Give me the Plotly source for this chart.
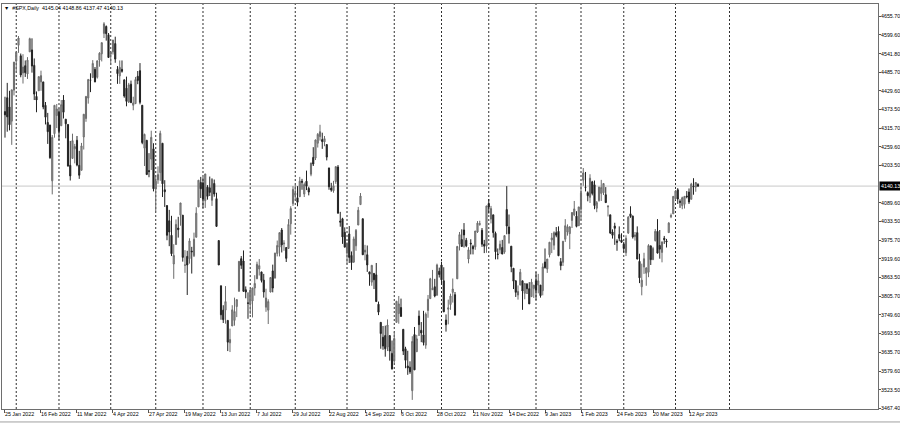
import pandas as pd
import plotly.graph_objects as go

# ---------------- data ----------------
symbol = "#SPX,Daily"
start_date = "2022-01-25"
end_date = "2023-04-18"
holidays = ["2022-02-21", "2022-04-15", "2022-05-30", "2022-06-20", "2022-07-04",
            "2022-09-05", "2022-11-24", "2022-12-26", "2023-01-02", "2023-01-16",
            "2023-02-20", "2023-04-07"]

open_ = [
    # Jan 2022
    4366, 4408, 4380, 4337, 4431,
    # Feb 2022
    4519, 4567, 4535, 4483, 4505, 4480, 4547, 4553, 4506, 4412, 4429, 4456, 4456, 4385,
    4333, 4325, 4156, 4299, 4354,
    # Mar 2022
    4364, 4323, 4401, 4343, 4327, 4203, 4224, 4253, 4279, 4203, 4188, 4289, 4345, 4407,
    4462, 4469, 4494, 4470, 4522, 4541, 4603, 4624, 4599,
    # Apr 2022
    4540, 4547, 4572, 4494, 4474, 4494, 4462, 4437, 4395, 4449, 4385, 4390, 4473, 4490,
    4385, 4255, 4279, 4187, 4222, 4253,
    # May 2022
    4131, 4159, 4181, 4270, 4129, 4081, 4035, 3991, 3904, 3963, 4013, 4052, 4052, 3900,
    3927, 3920, 3943, 3929, 3985, 4077, 4151,
    # Jun 2022
    4150, 4096, 4137, 4135, 4097, 4148, 4102, 3975, 3838, 3764, 3764, 3733, 3665, 3716,
    3733, 3775, 3821, 3920, 3913, 3826, 3786,
    # Jul 2022
    3782, 3792, 3831, 3859, 3889, 3880, 3855, 3773, 3764, 3819, 3883, 3861, 3936, 3955,
    4007, 3965, 3954, 3951, 4026, 4087,
    # Aug 2022
    4113, 4105, 4108, 4155, 4116, 4155, 4133, 4176, 4227, 4225, 4270, 4290, 4281, 4274,
    4266, 4195, 4134, 4126, 4154, 4198, 4034, 4041, 4000,
    # Sep 2022
    3937, 3995, 3930, 3910, 3959, 4022, 4084, 4041, 3940, 3932, 3880, 3849, 3875, 3871,
    3782, 3727, 3682, 3687, 3652, 3687, 3633,
    # Oct 2022
    3610, 3727, 3754, 3772, 3706, 3647, 3595, 3591, 3520, 3690, 3638, 3746, 3703, 3689,
    3658, 3763, 3799, 3826, 3835, 3809, 3882,
    # Nov 2022
    3901, 3853, 3734, 3767, 3781, 3818, 3811, 3859, 3964, 3978, 4007, 3976, 3919, 3967,
    3957, 3956, 4001, 4024, 4006, 3964, 3958,
    # Dec 2022
    4087, 4040, 4053, 3997, 3934, 3947, 3954, 3940, 4069, 4016, 3958, 3891, 3853, 3810,
    3840, 3853, 3815, 3843, 3829, 3805, 3830,
    # Jan 2023
    3853, 3840, 3840, 3823, 3910, 3889, 3932, 3977, 3961, 3999, 4003, 3911, 3909, 3979,
    4001, 3996, 4036, 4053, 4049, 4020,
    # Feb 2023
    4070, 4158, 4137, 4120, 4106, 4153, 4144, 4073, 4096, 4118, 4120, 4114, 4077, 4053,
    4001, 4019, 3973, 3993, 3977,
    # Mar 2023
    3964, 3938, 3998, 4056, 4049, 3987, 3999, 3912, 3835, 3895, 3876, 3879, 3959, 3917,
    3975, 4003, 3960, 3939, 3982, 3974, 3999, 4047, 4056,
    # Apr 2023
    4102, 4129, 4094, 4081, 4085, 4110, 4122, 4100, 4140, 4137, 4145.04,
]

high = [
    4411, 4453, 4429, 4432, 4516,
    4546, 4595, 4542, 4540, 4521, 4531, 4590, 4588, 4527, 4427, 4472, 4490, 4456, 4395,
    4362, 4326, 4295, 4385, 4389,
    4375, 4401, 4416, 4343, 4327, 4277, 4299, 4268, 4292, 4247, 4271, 4358, 4412, 4465,
    4482, 4522, 4501, 4520, 4546, 4575, 4637, 4627, 4604,
    4548, 4583, 4593, 4504, 4521, 4521, 4464, 4472, 4453, 4460, 4411, 4471, 4489, 4513,
    4386, 4299, 4279, 4240, 4308, 4270,
    4169, 4200, 4308, 4270, 4158, 4082, 4068, 4050, 3964, 4039, 4047, 4089, 4052, 3946,
    3944, 3982, 3956, 3999, 4076, 4158, 4168,
    4167, 4177, 4143, 4169, 4164, 4160, 4120, 3975, 3838, 3779, 3837, 3733, 3708, 3779,
    3802, 3796, 3913, 3928, 3945, 3836, 3818,
    3829, 3832, 3870, 3911, 3919, 3880, 3874, 3829, 3797, 3863, 3902, 3938, 3975, 3999,
    4013, 3976, 3954, 4040, 4079, 4140,
    4144, 4140, 4168, 4162, 4151, 4187, 4138, 4211, 4258, 4281, 4301, 4326, 4302, 4292,
    4266, 4196, 4150, 4156, 4200, 4204, 4062, 4044, 4015,
    3970, 4019, 3942, 3987, 4010, 4077, 4119, 4042, 3962, 3960, 3880, 3900, 3877, 3907,
    3790, 3727, 3716, 3717, 3736, 3687, 3672,
    3698, 3792, 3807, 3799, 3706, 3653, 3641, 3609, 3685, 3713, 3689, 3763, 3728, 3762,
    3757, 3810, 3862, 3886, 3859, 3905, 3893,
    3911, 3894, 3751, 3796, 3814, 3860, 3819, 3959, 4001, 4009, 4028, 3983, 3955, 3979,
    3962, 4004, 4034, 4035, 4013, 3977, 4080,
    4101, 4080, 4053, 4002, 3951, 3975, 3977, 3990, 4140, 4054, 3958, 3891, 3854, 3839,
    3889, 3853, 3845, 3846, 3849, 3859, 3840,
    3879, 3874, 3840, 3906, 3951, 3919, 3970, 3998, 4003, 4016, 4018, 3922, 3973, 4040,
    4024, 4019, 4061, 4095, 4064, 4077,
    4148, 4195, 4183, 4124, 4176, 4156, 4157, 4095, 4138, 4159, 4148, 4137, 4082, 4053,
    4009, 4029, 3979, 4018, 3997,
    3971, 3991, 4049, 4079, 4051, 4001, 4018, 3935, 3905, 3938, 3894, 3964, 3959, 3956,
    4010, 4040, 4007, 3972, 3989, 3980, 4031, 4057, 4110,
    4128, 4134, 4100, 4108, 4109, 4125, 4133, 4150, 4164, 4152, 4148.86,
]

low = [
    4287, 4305, 4309, 4265, 4415,
    4484, 4544, 4470, 4451, 4471, 4465, 4547, 4484, 4401, 4364, 4429, 4429, 4373, 4327,
    4268, 4223, 4115, 4287, 4316,
    4279, 4323, 4345, 4285, 4199, 4157, 4224, 4209, 4200, 4162, 4188, 4251, 4335, 4390,
    4425, 4469, 4455, 4466, 4502, 4518, 4589, 4581, 4531,
    4507, 4539, 4514, 4450, 4450, 4484, 4408, 4382, 4392, 4393, 4370, 4390, 4449, 4388,
    4267, 4201, 4175, 4167, 4189, 4124,
    4063, 4147, 4156, 4107, 4077, 3976, 3958, 3928, 3859, 3963, 3984, 4020, 3911, 3877,
    3810, 3905, 3875, 3925, 3985, 4077, 4104,
    4074, 4074, 4099, 4110, 4080, 4108, 4017, 3901, 3735, 3725, 3723, 3640, 3637, 3716,
    3717, 3743, 3821, 3889, 3820, 3800, 3738,
    3752, 3742, 3808, 3859, 3869, 3848, 3802, 3759, 3722, 3818, 3818, 3861, 3927, 3927,
    3939, 3944, 3910, 3951, 3993, 4080,
    4097, 4079, 4108, 4129, 4107, 4128, 4112, 4170, 4201, 4219, 4257, 4278, 4253, 4261,
    4218, 4129, 4123, 4120, 4147, 4057, 4017, 3965, 3955,
    3903, 3907, 3886, 3907, 3944, 4022, 4084, 3933, 3915, 3880, 3838, 3838, 3828, 3789,
    3749, 3647, 3644, 3623, 3640, 3611, 3584,
    3604, 3727, 3723, 3745, 3628, 3588, 3568, 3571, 3492, 3584, 3638, 3686, 3667, 3657,
    3647, 3741, 3799, 3825, 3803, 3809, 3863,
    3843, 3758, 3699, 3721, 3765, 3787, 3748, 3859, 3945, 3957, 3954, 3955, 3906, 3933,
    3933, 3947, 3998, 4020, 3956, 3937, 3938,
    4057, 4027, 3984, 3918, 3918, 3935, 3934, 3935, 3994, 3966, 3879, 3828, 3804, 3796,
    3840, 3765, 3797, 3813, 3783, 3805, 3801,
    3795, 3815, 3802, 3809, 3890, 3877, 3924, 3937, 3947, 3985, 3928, 3885, 3898, 3971,
    3990, 3949, 4013, 4049, 4015, 4021,
    4037, 4141, 4124, 4094, 4089, 4112, 4070, 4061, 4093, 4095, 4113, 4092, 4048, 3995,
    3981, 3962, 3944, 3973, 3968,
    3939, 3928, 3995, 4044, 3981, 3975, 3918, 3846, 3809, 3874, 3838, 3864, 3901, 3917,
    3972, 3936, 3920, 3909, 3965, 3954, 3999, 4043, 4056,
    4098, 4086, 4074, 4070, 4072, 4103, 4086, 4100, 4114, 4123, 4137.47,
]

close = [
    4356, 4350, 4326, 4432, 4516,
    4546, 4589, 4477, 4501, 4484, 4522, 4587, 4504, 4419, 4401, 4472, 4475, 4380, 4349,
    4305, 4226, 4288, 4385, 4374,
    4306, 4387, 4364, 4329, 4201, 4171, 4278, 4260, 4204, 4173, 4262, 4358, 4412, 4463,
    4461, 4512, 4456, 4520, 4543, 4575, 4632, 4602, 4530,
    4546, 4583, 4525, 4481, 4500, 4488, 4413, 4397, 4447, 4393, 4392, 4463, 4460, 4394,
    4272, 4297, 4175, 4184, 4288, 4132,
    4155, 4175, 4300, 4147, 4123, 3991, 4001, 3935, 3930, 4024, 4008, 4089, 3924, 3901,
    3901, 3974, 3941, 3979, 4058, 4158, 4132,
    4101, 4177, 4109, 4121, 4161, 4116, 4018, 3901, 3750, 3735, 3790, 3667, 3675, 3765,
    3760, 3796, 3912, 3900, 3821, 3819, 3785,
    3825, 3831, 3845, 3903, 3899, 3854, 3819, 3801, 3790, 3863, 3831, 3937, 3960, 3999,
    3962, 3967, 3921, 4024, 4072, 4130,
    4119, 4091, 4155, 4152, 4145, 4140, 4122, 4210, 4207, 4280, 4297, 4305, 4275, 4284,
    4228, 4138, 4128, 4141, 4199, 4058, 4031, 3986, 3955,
    3966, 3924, 3908, 3980, 4006, 4067, 4110, 3932, 3946, 3901, 3873, 3900, 3856, 3790,
    3758, 3693, 3655, 3647, 3719, 3640, 3586,
    3678, 3791, 3783, 3745, 3640, 3612, 3589, 3577, 3669, 3583, 3677, 3720, 3695, 3666,
    3752, 3797, 3859, 3830, 3807, 3901, 3872,
    3856, 3759, 3720, 3771, 3807, 3828, 3749, 3957, 3993, 3957, 3992, 3959, 3947, 3965,
    3950, 4004, 4028, 4026, 3964, 3958, 4080,
    4077, 4072, 3999, 3941, 3933, 3964, 3934, 3990, 4019, 3996, 3896, 3852, 3818, 3821,
    3879, 3822, 3845, 3829, 3783, 3849, 3840,
    3824, 3853, 3808, 3895, 3893, 3919, 3970, 3983, 3999, 3991, 3929, 3899, 3973, 4020,
    4017, 4016, 4060, 4071, 4018, 4077,
    4119, 4180, 4136, 4111, 4164, 4118, 4081, 4090, 4137, 4136, 4148, 4090, 4079, 3998,
    3991, 4012, 3970, 3982, 3970,
    3951, 3982, 4046, 4048, 3986, 3992, 3919, 3862, 3855, 3920, 3892, 3960, 3917, 3951,
    4003, 3937, 3949, 3971, 3978, 3971, 4028, 4051, 4109,
    4125, 4101, 4091, 4105, 4109, 4108, 4092, 4146, 4138, 4151, 4140.13,
]

price_ticks = [4655.70, 4599.60, 4541.80, 4485.70, 4429.60, 4373.50, 4315.70, 4259.60,
               4203.50, 4089.60, 4033.50, 3975.70, 3919.60, 3863.50, 3805.70, 3749.60,
               3693.50, 3635.70, 3579.60, 3523.50, 3467.40]

date_labels = ["25 Jan 2022", "16 Feb 2022", "11 Mar 2022", "4 Apr 2022", "27 Apr 2022",
               "19 May 2022", "13 Jun 2022", "7 Jul 2022", "29 Jul 2022", "22 Aug 2022",
               "14 Sep 2022", "6 Oct 2022", "28 Oct 2022", "21 Nov 2022", "14 Dec 2022",
               "9 Jan 2023", "1 Feb 2023", "24 Feb 2023", "20 Mar 2023", "12 Apr 2023"]

# ---------------- build ----------------
dates = [d for d in pd.bdate_range(start_date, end_date) if d.strftime("%Y-%m-%d") not in holidays]
n = min(len(dates), len(open_), len(high), len(low), len(close))
dates = dates[:n]
xs = list(range(n))
date_index = {d.strftime("%-d %b %Y"): i for i, d in enumerate(dates)}
label_pos = [date_index[l] for l in date_labels]

# month grid: first trading bar of each month + next (future) month
grid_pos = [i for i in range(1, n) if dates[i].month != dates[i - 1].month]
grid_pos.append(n - 1 + 14)

FONT = "Liberation Sans"
fs = 5.3

fig = go.Figure()
fig.add_trace(go.Candlestick(
    x=xs, open=open_[:n], high=high[:n], low=low[:n], close=close[:n],
    increasing=dict(line=dict(color="#6c6c6c", width=1), fillcolor="#a2a2a2"),
    decreasing=dict(line=dict(color="#222222", width=1), fillcolor="#222222"),
    whiskerwidth=0, showlegend=False, hoverinfo="skip",
))

shapes = []
for g in grid_pos:
    shapes.append(dict(type="line", xref="x", yref="paper", x0=g, x1=g, y0=0, y1=1,
                       line=dict(color="#303030", width=1, dash="2px,2px"), layer="below"))
# current price line
shapes.append(dict(type="line", xref="paper", yref="y", x0=0, x1=1, y0=close[n - 1], y1=close[n - 1],
                   line=dict(color="#c8c8c8", width=1), layer="below"))
# bottom window line
shapes.append(dict(type="line", xref="paper", yref="paper", x0=-0.01, x1=1.03, y0=-0.032, y1=-0.032,
                   line=dict(color="#a0a0a0", width=1)))

annotations = []
for lab, p in zip(date_labels, label_pos):
    annotations.append(dict(x=p, y=0, xref="x", yref="paper", text=lab, showarrow=False,
                            xanchor="left", yanchor="top", yshift=-1, xshift=-1, borderpad=0,
                            font=dict(family=FONT, size=fs, color="#000")))
for v in price_ticks:
    annotations.append(dict(x=1, y=v, xref="paper", yref="y", text="%.2f" % v, showarrow=False,
                            xanchor="left", yanchor="middle", xshift=2, borderpad=0,
                            font=dict(family=FONT, size=fs, color="#000")))
annotations.append(dict(x=1, y=close[n - 1], xref="paper", yref="y",
                        text="%.2f" % close[n - 1], showarrow=False, xanchor="left", yanchor="middle",
                        bgcolor="#000000", font=dict(family=FONT, size=fs, color="#ffffff"),
                        borderpad=1, xshift=1))
header = "\u25BC  %s  %.2f %.2f %.2f %.2f" % (symbol, open_[n - 1], high[n - 1], low[n - 1], close[n - 1])
annotations.append(dict(x=0, y=1, xref="paper", yref="paper", text=header, showarrow=False,
                        xanchor="left", yanchor="top", xshift=1, yshift=0, borderpad=0,
                        font=dict(family=FONT, size=fs, color="#000")))

fig.update_layout(
    width=900, height=425,
    margin=dict(l=2, r=22, t=4, b=16, autoexpand=False),
    paper_bgcolor="white", plot_bgcolor="white",
    shapes=shapes, annotations=annotations,
    font=dict(family=FONT, size=fs, color="#000"),
    hovermode=False,
    xaxis=dict(range=[-1.33, 388], showgrid=False, zeroline=False, showline=True, mirror=True,
               linecolor="#6e6e6e", linewidth=1, rangeslider=dict(visible=False),
               tickmode="array", tickvals=label_pos, ticks="outside", ticklen=3,
               tickcolor="#555", showticklabels=False, automargin=False),
    yaxis=dict(range=[3464.4, 4692.1], side="right", showgrid=False, zeroline=False,
               showline=True, mirror=True, linecolor="#6e6e6e", linewidth=1,
               tickmode="array", tickvals=price_ticks, showticklabels=False,
               ticks="outside", ticklen=2, tickcolor="#555", automargin=False),
)

fig.write_html("out.html", config={"displayModeBar": False, "staticPlot": True},
               post_script="document.body.style.margin='0';document.body.style.overflow='hidden';")
